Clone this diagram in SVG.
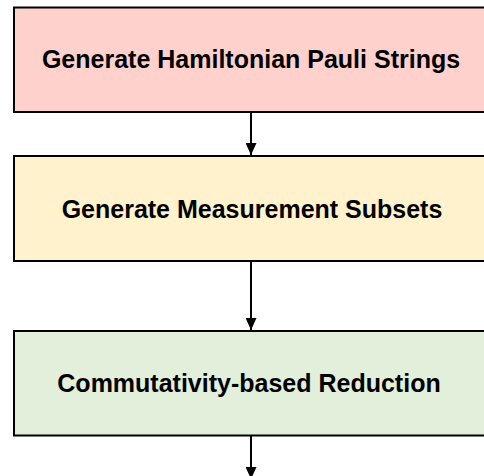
<svg xmlns="http://www.w3.org/2000/svg" width="484" height="476" viewBox="0 0 484 476">
<style>
.box{stroke:#000;stroke-width:2}
.lbl{font-family:"Liberation Sans",Arial,sans-serif;font-weight:bold;font-size:25px;fill:#000;text-anchor:middle}
.conn{stroke:#000;stroke-width:2;fill:none}
</style>
<defs>
<marker id="ah" markerWidth="12" markerHeight="11" refX="12" refY="5.5" orient="auto" markerUnits="userSpaceOnUse" viewBox="0 0 12 11">
<path d="M0,0 L12,5.5 L0,11 Z" fill="#000"/>
</marker>
</defs>
<rect width="484" height="476" fill="#fff"/>
<g id="n1">
<rect class="box" x="14" y="7.5" width="476" height="104.5" fill="#FFD1CC"/>
<text class="lbl" x="251" y="68">Generate Hamiltonian Pauli Strings</text>
</g>
<g id="n2">
<rect class="box" x="14" y="156" width="476" height="105" fill="#FFF2CC"/>
<text class="lbl" x="252" y="218">Generate Measurement Subsets</text>
</g>
<g id="n3">
<rect class="box" x="14" y="331" width="476" height="104.5" fill="#E2EFDA"/>
<text class="lbl" x="249" y="392">Commutativity-based Reduction</text>
</g>
<g id="connectors">
<line class="conn" x1="251" y1="112" x2="251" y2="155" marker-end="url(#ah)"/>
<line class="conn" x1="251" y1="261" x2="251" y2="330" marker-end="url(#ah)"/>
<line class="conn" x1="251" y1="435.5" x2="251" y2="479" marker-end="url(#ah)"/>
</g>
</svg>
